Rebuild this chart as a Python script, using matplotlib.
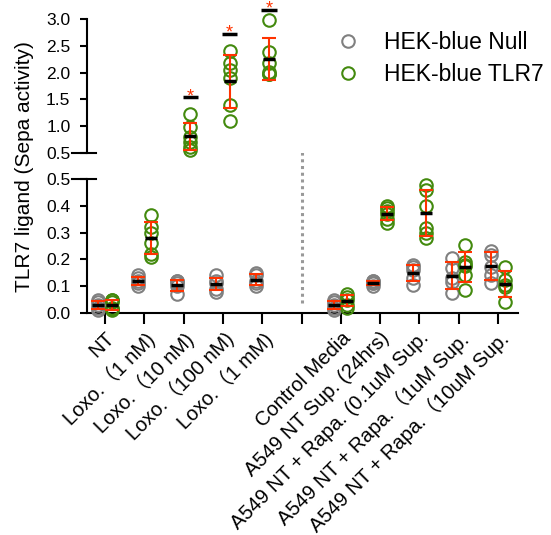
import numpy as np
import matplotlib
matplotlib.use("Agg")
import matplotlib.pyplot as plt
from matplotlib.lines import Line2D

plt.rcParams['font.family'] = ['Liberation Sans', 'Noto Sans CJK SC', 'DejaVu Sans']

labels = ["NT", "Loxo.（1 nM)", "Loxo.（10 nM)", "Loxo.（100 nM)", "Loxo.（1 mM)",
          "Control Media", "A549 NT Sup. (24hrs)", "A549 NT + Rapa. (0.1uM Sup.",
          "A549 NT + Rapa.（1uM Sup.", "A549 NT + Rapa.（10uM Sup."]
positions = [0, 1, 2, 3, 4, 6, 7, 8, 9, 10]

null_vals = [
    [0.01, 0.02, 0.03, 0.04, 0.05],
    [0.10, 0.11, 0.12, 0.13, 0.14],
    [0.07, 0.10, 0.11, 0.12, 0.12],
    [0.08, 0.09, 0.11, 0.12, 0.14],
    [0.10, 0.11, 0.12, 0.14, 0.15],
    [0.01, 0.02, 0.03, 0.04, 0.05],
    [0.10, 0.11, 0.11, 0.12, 0.12],
    [0.105, 0.13, 0.16, 0.17, 0.18],
    [0.073, 0.117, 0.13, 0.167, 0.206],
    [0.11, 0.142, 0.173, 0.216, 0.233],
]
tlr7_vals = [
    [0.01, 0.015, 0.02, 0.04, 0.05, 0.05],
    [0.21, 0.22, 0.26, 0.30, 0.32, 0.366],
    [0.56, 0.62, 0.70, 0.80, 0.98, 1.23],
    [1.10, 1.40, 1.90, 2.05, 2.17, 2.40],
    [1.97, 1.98, 2.02, 2.17, 2.39, 2.98],
    [0.02, 0.03, 0.05, 0.06, 0.07],
    [0.335, 0.35, 0.37, 0.38, 0.39, 0.40],
    [0.28, 0.30, 0.316, 0.40, 0.46, 0.478],
    [0.086, 0.14, 0.175, 0.18, 0.19, 0.254],
    [0.042, 0.098, 0.104, 0.123, 0.173],
]

# significance marks over TLR7 groups
sig_pos = [2, 3, 4]
sig_bar_y = [1.54, 2.72, 3.17]

gray = "#808080"
green = "#438a0e"
red = "#ff3300"
off = 0.17
brk = 0.5

fig = plt.figure(figsize=(5.51, 5.35), dpi=100)
ax_low = fig.add_axes([0.158, 0.415, 0.782, 0.2505])
ax_up = fig.add_axes([0.158, 0.714, 0.782, 0.2505])


def draw_group(x, vals, color):
    vals = np.array(vals)
    m = vals.mean()
    sd = vals.std(ddof=1)
    for v in vals:
        ax = ax_low if v < brk else ax_up
        ax.plot(x, v, 'o', ms=9, mfc='none', mec=color, mew=1.5, clip_on=False, zorder=3)
    ax = ax_low if m < brk else ax_up
    ax.errorbar(x, m, yerr=sd, fmt='none', ecolor=red, elinewidth=1.5,
                capsize=5, capthick=1.5, clip_on=False, zorder=4)
    ax.plot(x, m, marker='_', ms=9, mew=2.5, color='black', clip_on=False, zorder=5)


for p, nv, tv in zip(positions, null_vals, tlr7_vals):
    draw_group(p - off, nv, gray)
    draw_group(p + off, tv, green)

for p, y in zip(sig_pos, sig_bar_y):
    ax_up.plot([p + off - 0.2, p + off + 0.2], [y, y], color='black', lw=2.5,
               clip_on=False, solid_capstyle='butt')
    ax_up.text(p + off, y - 0.07, "*", color=red, fontsize=13, ha='center',
               va='baseline', clip_on=False)

for ax in (ax_low, ax_up):
    ax.set_xlim(-0.46, 10.51)
    ax.spines['top'].set_visible(False)
    ax.spines['right'].set_visible(False)
    ax.spines['left'].set_linewidth(1.5)
    ax.spines['bottom'].set_linewidth(1.5)
    ax.tick_params(axis='y', length=5, width=1.5, labelsize=12.5, pad=7)
    ax.tick_params(axis='x', length=8, width=1.5, labelsize=14.5, pad=3)

ax_low.set_ylim(0, 0.5)
ax_low.set_yticks(np.arange(0, 0.51, 0.1))
ax_low.set_yticklabels([f"{v:.1f}" for v in np.arange(0, 0.51, 0.1)])
ax_up.set_ylim(0.5, 3.0)
ax_up.set_yticks(np.arange(0.5, 3.01, 0.5))
ax_up.set_yticklabels([f"{v:.1f}" for v in np.arange(0.5, 3.01, 0.5)])

ax_up.spines['bottom'].set_visible(False)
ax_up.tick_params(axis='x', bottom=False, labelbottom=False)

tick_pos = list(range(11))
tick_lab = labels[:5] + [""] + labels[5:]
ax_low.set_xticks(tick_pos)
ax_low.set_xticklabels(tick_lab, rotation=45, ha='right', rotation_mode='anchor')

# axis break marks
for ax in (ax_low, ax_up):
    ax.plot([-0.035, 0.02], [brk, brk], color='black', lw=1.5,
            transform=ax.get_yaxis_transform(), clip_on=False)

# dotted divider
ax_low.plot([5, 5], [0.037, 1.045], color='#999999', lw=2.2, ls=(0, (1, 1.2)),
            clip_on=False)

fig.text(0.044, 0.688, "TLR7 ligand (Sepa activity)", rotation=90, fontsize=15,
         ha='center', va='center')

handles = [Line2D([], [], marker='o', ls='none', ms=9, mfc='none', mec=gray, mew=1.5),
           Line2D([], [], marker='o', ls='none', ms=9, mfc='none', mec=green, mew=1.5)]
fig.legend(handles, ["HEK-blue Null", "HEK-blue TLR7"], loc='upper left',
           bbox_to_anchor=(0.59, 0.963), frameon=False, fontsize=16.5,
           handlelength=1.0, handletextpad=1.05, labelspacing=0.37, borderpad=0)

fig.savefig("out.png", dpi=100)
